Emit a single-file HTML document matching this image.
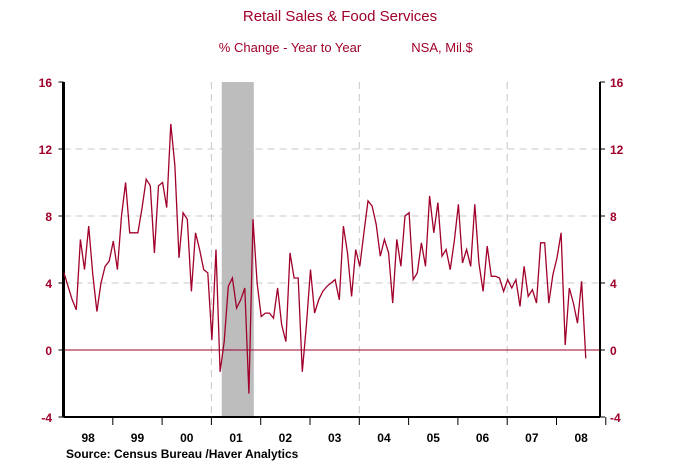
<!DOCTYPE html>
<html><head><meta charset="utf-8"><style>
body{margin:0;background:#fff;width:680px;height:465px;overflow:hidden}
svg text{font-family:"Liberation Sans",Arial,sans-serif}
</style></head><body>
<svg width="680" height="465">
<text x="340" y="21" text-anchor="middle" font-size="15" fill="#a0002a">Retail Sales &amp; Food Services</text>
<text x="290" y="52" text-anchor="middle" font-size="13" fill="#a0002a">% Change - Year to Year</text>
<text x="442" y="52" text-anchor="middle" font-size="13" fill="#a0002a">NSA, Mil.$</text>
<g id="grid"></g>
<rect id="rec" fill="#bdbdbd"></rect>
<g id="axes"></g>
<path id="line" fill="none" stroke="#a0002a" stroke-width="1.3"></path>
<text x="66" y="458" font-size="12" font-weight="bold" fill="#000">Source:  Census Bureau /Haver Analytics</text>
</svg>
<script>
const yTicks=[-4,0,4,8,12,16];
const years=["98","99","00","01","02","03","04","05","06","07","08"];
const values=[4.6,3.8,3.0,2.4,6.6,4.8,7.4,4.5,2.3,4.0,5.0,5.3,
6.5,4.8,8.0,10.0,7.0,7.0,7.0,8.5,10.2,9.8,5.8,9.8,
10.0,8.5,13.5,11.0,5.5,8.2,7.8,3.5,7.0,6.0,4.8,4.6,
0.6,6.0,-1.3,0.5,3.8,4.3,2.5,3.0,3.7,-2.6,7.8,4.0,
2.0,2.2,2.2,1.9,3.7,1.5,0.5,5.8,4.3,4.3,-1.3,1.5,
4.8,2.2,3.0,3.5,3.8,4.0,4.2,3.0,7.4,5.8,3.2,6.0,
5.0,7.0,8.9,8.6,7.5,5.6,6.6,5.8,2.8,6.6,5.0,8.0,
8.2,4.2,4.6,6.4,5.0,9.2,7.0,8.8,5.6,6.0,4.8,6.5,
8.7,5.2,6.0,5.0,8.7,5.2,3.5,6.2,4.4,4.4,4.3,3.5,
4.2,3.7,4.2,2.6,5.0,3.2,3.6,2.8,6.4,6.4,2.8,4.5,
5.5,7.0,0.3,3.7,2.8,1.6,4.1,-0.5];
const recession=[2001.21,2001.86];
const X0=63.5,X1=600,Y0=417,Y1=82;
const yearW=49.3;
const xYear=t=>X0+(t-1998)*yearW;
const y=v=>350-v*(335/20);
const xIdx=i=>64+i*(yearW/12);
const NS="http://www.w3.org/2000/svg";
function mk(tag,attrs,parent){const e=document.createElementNS(NS,tag);for(const k in attrs)e.setAttribute(k,attrs[k]);document.getElementById(parent).appendChild(e);return e;}
yTicks.forEach(v=>{
 if(v>0&&v<16){const g=mk('line',{x1:X0,x2:X1,y1:y(v),y2:y(v),stroke:'#c8c8c8','stroke-dasharray':'7,5'},'grid');
 
 }
 const tl=mk('text',{x:52,y:y(v)+5,'text-anchor':'end','font-size':12,'font-weight':'bold',fill:'#a0002a'},'axes');tl.textContent=v;
 
 
 const tr=mk('text',{x:610,y:y(v)+5,'font-size':12,'font-weight':'bold',fill:'#a0002a'},'axes');tr.textContent=v;
 
 
 mk('line',{x1:X0-5,x2:X0,y1:y(v),y2:y(v),stroke:'#000'},'axes');
 mk('line',{x1:X1,x2:X1+5,y1:y(v),y2:y(v),stroke:'#000'},'axes');
});
[2001,2004,2007].forEach(t=>{const g=mk('line',{x1:xYear(t),x2:xYear(t),y1:Y1,y2:Y0,stroke:'#c8c8c8','stroke-dasharray':'7,5'},'grid');
 
 });
const r=document.getElementById('rec');
r.setAttribute('x',xYear(recession[0]));r.setAttribute('width',xYear(recession[1])-xYear(recession[0]));
r.setAttribute('y',Y1);r.setAttribute('height',Y0-Y1);
mk('line',{x1:X0,x2:X1,y1:y(0),y2:y(0),stroke:'#a0002a','stroke-width':1},'axes');
mk('line',{x1:X0,x2:X0,y1:Y1,y2:Y0,stroke:'#000','stroke-width':3},'axes');
mk('line',{x1:X1,x2:X1,y1:Y1,y2:Y0,stroke:'#000','stroke-width':2},'axes');
mk('line',{x1:X0,x2:X1,y1:Y0,y2:Y0,stroke:'#000','stroke-width':2},'axes');
years.forEach((lab,i)=>{
 const t=mk('text',{x:xYear(1998+i+0.5),y:442,'text-anchor':'middle','font-size':12,'font-weight':'bold',fill:'#000'},'axes');t.textContent=lab;
 
 
 mk('line',{x1:xYear(1998+i+1),x2:xYear(1998+i+1),y1:Y0,y2:Y0+8,stroke:'#000'},'axes');
});
document.getElementById('line').setAttribute('d',values.map((v,i)=>(i?'L':'M')+xIdx(i).toFixed(1)+','+y(v).toFixed(1)).join(''));
</script>
</body></html>
